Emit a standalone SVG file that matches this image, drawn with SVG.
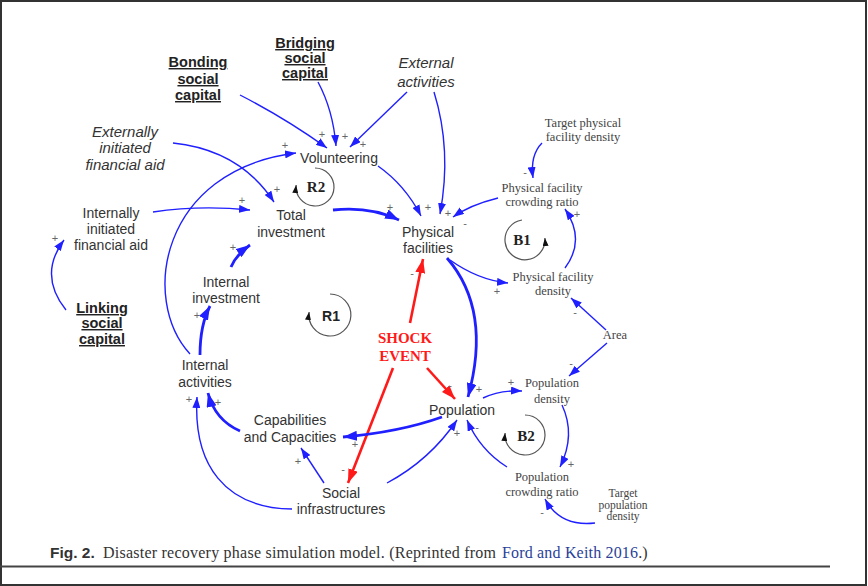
<svg xmlns="http://www.w3.org/2000/svg" width="868" height="586" viewBox="0 0 868 586">
<style>
.n{font-family:"Liberation Sans",Arial,sans-serif;font-size:14px;fill:#333;text-anchor:middle}
.i{font-family:"Liberation Sans",Arial,sans-serif;font-size:15px;font-style:italic;fill:#333;text-anchor:middle}
.b{font-family:"Liberation Sans",Arial,sans-serif;font-size:14.5px;font-weight:bold;fill:#222;text-anchor:middle;text-decoration:underline}
.s{font-family:"Liberation Serif","Times New Roman",serif;font-size:12.5px;fill:#444;text-anchor:middle}
.p{font-family:"Liberation Sans",Arial,sans-serif;font-size:11px;fill:#666;text-anchor:middle}
.lb{font-family:"Liberation Serif","Times New Roman",serif;font-size:15px;font-weight:bold;fill:#222;text-anchor:middle}
.t{fill:none;stroke:#1f1fff;stroke-width:1.4;marker-end:url(#a)}
.k{fill:none;stroke:#1f1fff;stroke-width:2.8;marker-end:url(#A)}
.r{fill:none;stroke:#ff1a1a;stroke-width:2.6;marker-end:url(#R)}
.loop{fill:none;stroke:#555;stroke-width:1.2;marker-end:url(#L)}
</style>
<defs>
<marker id="a" markerUnits="userSpaceOnUse" markerWidth="11" markerHeight="8" refX="11" refY="4" orient="auto"><path d="M0,0 L11,4 L0,8 z" fill="#1f1fff"/></marker>
<marker id="A" markerUnits="userSpaceOnUse" markerWidth="14" markerHeight="10" refX="14" refY="5" orient="auto"><path d="M0,0 L14,5 L0,10 z" fill="#1f1fff"/></marker>
<marker id="R" markerUnits="userSpaceOnUse" markerWidth="14" markerHeight="10" refX="14" refY="5" orient="auto"><path d="M0,0 L14,5 L0,10 z" fill="#ff1a1a"/></marker>
<marker id="L" markerUnits="userSpaceOnUse" markerWidth="8" markerHeight="6" refX="8" refY="3" orient="auto"><path d="M0,0 L8,3 L0,6 z" fill="#111"/></marker>
</defs>
<rect x="0" y="0" width="868" height="586" fill="#fff"/>
<rect x="1" y="1" width="865" height="584" fill="none" stroke="#333" stroke-width="2"/>

<g id="connectors">
<path class="t" d="M240,95 Q285,118 327,148"/>
<path class="t" d="M318,82 Q333,110 336,146"/>
<path class="t" d="M407,92 Q378,120 350,147"/>
<path class="t" d="M434,92 Q452,150 440,214"/>
<path class="t" d="M378,166 Q405,185 421,216"/>
<path class="k" d="M333,210 Q370,206 399,220"/>
<path class="t" d="M498,198 Q470,205 453,217"/>
<path class="t" d="M542,143 Q530,155 533,178"/>
<path class="t" d="M565,268 Q586,240 565,209"/>
<path class="t" d="M450,260 Q478,280 508,283"/>
<path class="t" d="M606,330 L571,298"/>
<path class="t" d="M607,343 L569,376"/>
<path class="t" d="M483,398 Q500,390 522,391"/>
<path class="t" d="M562,405 Q576,435 560,467"/>
<path class="t" d="M507,467 Q480,450 467,420"/>
<path class="t" d="M595,523 Q560,527 545,499"/>
<path class="k" d="M447,258 Q492,310 468,397"/>
<path class="r" d="M410,323 L423,259"/>
<path class="r" d="M427,368 L455,399"/>
<path class="r" d="M393,368 L348,483"/>
<path class="k" d="M442,417 Q400,432 343,437"/>
<path class="t" d="M387,483 Q430,460 457,420"/>
<path class="t" d="M324,483 L301,448"/>
<path class="t" d="M292,509 C225,508 193,465 197,397"/>
<path class="k" d="M240,431 Q215,420 208,393"/>
<path class="k" d="M200,355 Q200,325 210,306"/>
<path class="k" d="M231,267 Q236,255 250,245"/>
<path class="t" d="M190,354 C140,300 160,170 296,153"/>
<path class="t" d="M153,212 Q200,205 250,210"/>
<path class="t" d="M173,143 Q240,150 274,202"/>
<path class="t" d="M66,310 Q38,275 64,240"/>
</g>

<g id="polarities">
<text class="p" x="322" y="138">+</text>
<text class="p" x="345" y="140">+</text>
<text class="p" x="363" y="148">+</text>
<text class="p" x="285" y="149">+</text>
<text class="p" x="277" y="193">+</text>
<text class="p" x="242" y="204">+</text>
<text class="p" x="233" y="251">+</text>
<text class="p" x="390" y="211">+</text>
<text class="p" x="428" y="211">+</text>
<text class="p" x="448" y="217">+</text>
<text class="p" x="465" y="227">-</text>
<text class="p" x="525" y="176">-</text>
<text class="p" x="577" y="218">+</text>
<text class="p" x="497" y="295">+</text>
<text class="p" x="575" y="316">-</text>
<text class="p" x="571" y="367">-</text>
<text class="p" x="511" y="386">+</text>
<text class="p" x="571" y="468">+</text>
<text class="p" x="542" y="516">-</text>
<text class="p" x="479" y="393">+</text>
<text class="p" x="450" y="389">-</text>
<text class="p" x="457" y="437">+</text>
<text class="p" x="477" y="431">-</text>
<text class="p" x="412" y="277">-</text>
<text class="p" x="343" y="473">-</text>
<text class="p" x="355" y="448">+</text>
<text class="p" x="298" y="465">+</text>
<text class="p" x="189" y="403">+</text>
<text class="p" x="218" y="406">+</text>
<text class="p" x="197" y="319">+</text>
<text class="p" x="55" y="242">+</text>
</g>

<g id="loop-R2"><path class="loop" d="M315,168 A19,19 0 1 1 296.1,185"/><text class="lb" x="316" y="192">R2</text></g>
<g id="loop-R1"><path class="loop" d="M330,294 A21,21 0 1 1 309.1,312"/><text class="n" style="font-weight:bold;fill:#222" x="331" y="321">R1</text></g>
<g id="loop-B1"><path class="loop" d="M522,220 A20,20 0 1 0 544.9,238"/><text class="lb" x="522" y="245">B1</text></g>
<g id="loop-B2"><path class="loop" d="M525,415 A20,20 0 1 1 505.1,433"/><text class="lb" x="526" y="441">B2</text></g>

<g id="bonding"><text class="b"><tspan x="198" y="67">Bonding</tspan><tspan x="198" y="84">social</tspan><tspan x="198" y="100">capital</tspan></text></g>
<g id="bridging"><text class="b"><tspan x="305" y="48">Bridging</tspan><tspan x="305" y="63">social</tspan><tspan x="305" y="78">capital</tspan></text></g>
<g id="external-activities"><text class="i"><tspan x="426" y="68">External</tspan><tspan x="426" y="87">activities</tspan></text></g>
<g id="externally-aid"><text class="i"><tspan x="125" y="137">Externally</tspan><tspan x="125" y="153">initiated</tspan><tspan x="125" y="170">financial aid</tspan></text></g>
<g id="internally-aid"><text class="n"><tspan x="111" y="218">Internally</tspan><tspan x="111" y="234">initiated</tspan><tspan x="111" y="250">financial aid</tspan></text></g>
<g id="linking"><text class="b"><tspan x="102" y="313">Linking</tspan><tspan x="102" y="328">social</tspan><tspan x="102" y="344">capital</tspan></text></g>
<g id="volunteering"><text class="n" x="339" y="163">Volunteering</text></g>
<g id="total-investment"><text class="n"><tspan x="291" y="220">Total</tspan><tspan x="291" y="237">investment</tspan></text></g>
<g id="physical-facilities"><text class="n"><tspan x="428" y="237">Physical</tspan><tspan x="428" y="253">facilities</tspan></text></g>
<g id="internal-investment"><text class="n"><tspan x="226" y="287">Internal</tspan><tspan x="226" y="303">investment</tspan></text></g>
<g id="internal-activities"><text class="n"><tspan x="205" y="370">Internal</tspan><tspan x="205" y="387">activities</tspan></text></g>
<g id="capabilities"><text class="n"><tspan x="290" y="425">Capabilities</tspan><tspan x="290" y="442">and Capacities</tspan></text></g>
<g id="social-infrastructures"><text class="n"><tspan x="341" y="498">Social</tspan><tspan x="341" y="514">infrastructures</tspan></text></g>
<g id="population"><text class="n" x="462" y="415">Population</text></g>
<g id="shock-event"><text class="lb" style="fill:#ff1a1a"><tspan x="405" y="343">SHOCK</tspan><tspan x="405" y="361">EVENT</tspan></text></g>
<g id="target-pfd"><text class="s"><tspan x="583" y="127">Target physical</tspan><tspan x="583" y="141">facility density</tspan></text></g>
<g id="pf-crowding"><text class="s"><tspan x="542" y="192">Physical facility</tspan><tspan x="542" y="206">crowding ratio</tspan></text></g>
<g id="pf-density"><text class="s"><tspan x="553" y="281">Physical facility</tspan><tspan x="553" y="295">density</tspan></text></g>
<g id="area"><text class="s" x="615" y="339">Area</text></g>
<g id="pop-density"><text class="s"><tspan x="552" y="387">Population</tspan><tspan x="552" y="403">density</tspan></text></g>
<g id="pop-crowding"><text class="s"><tspan x="542" y="481">Population</tspan><tspan x="542" y="496">crowding ratio</tspan></text></g>
<g id="target-pd"><text class="s" style="font-size:11.5px"><tspan x="623" y="497">Target</tspan><tspan x="623" y="508.5">population</tspan><tspan x="623" y="520">density</tspan></text></g>

<g id="caption">
<text x="50" y="558" style="font-family:'Liberation Sans',Arial,sans-serif;font-size:15.5px;font-weight:bold;fill:#333">Fig. 2.</text>
<text y="558" style="font-family:'Liberation Serif','Times New Roman',serif;font-size:16px;fill:#333"><tspan x="103" textLength="393" lengthAdjust="spacing">Disaster recovery phase simulation model. (Reprinted from</tspan><tspan x="502" fill="#2a3f9a" textLength="136" lengthAdjust="spacing">Ford and Keith 2016</tspan><tspan>.)</tspan></text>
<line x1="0" y1="566.5" x2="830" y2="566.5" stroke="#444" stroke-width="2"/>
</g>
</svg>
